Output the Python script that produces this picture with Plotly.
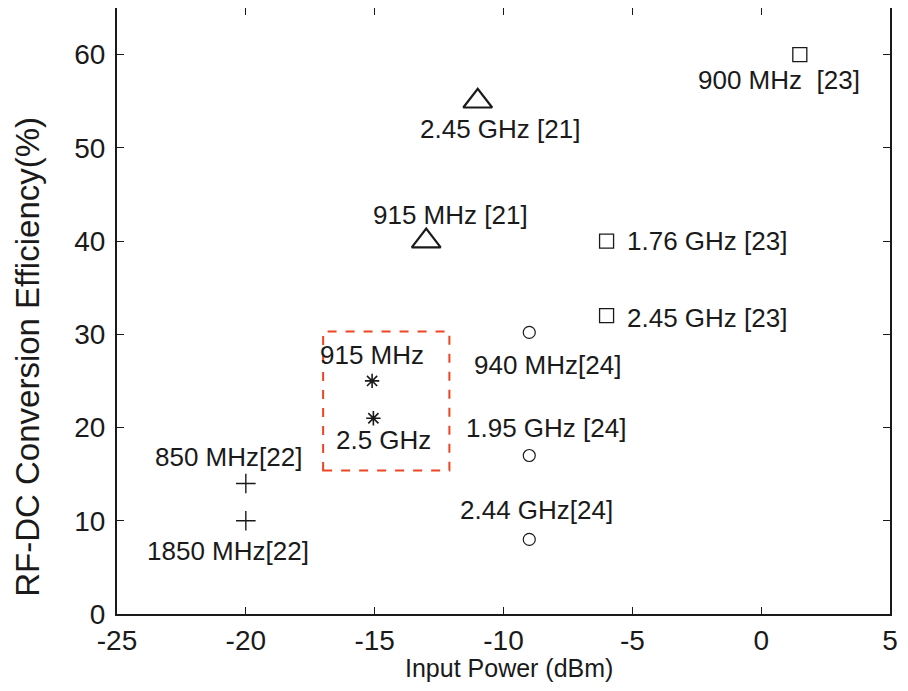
import plotly.graph_objects as go

# Data
sq_x = [1.5, -6, -6]
sq_y = [60, 40, 32]
sq_labels = ["900 MHz  [23]", "1.76 GHz [23]", "2.45 GHz [23]"]

tri_x = [-11, -13]
tri_y = [55, 40]
tri_labels = ["2.45 GHz [21]", "915 MHz [21]"]

circ_x = [-9, -9, -9]
circ_y = [30.2, 17, 8]
circ_labels = ["940 MHz[24]", "1.95 GHz [24]", "2.44 GHz[24]"]

ast_x = [-15.1, -15.05]
ast_y = [25, 21]
ast_labels = ["915 MHz", "2.5 GHz"]

plus_x = [-20, -20]
plus_y = [14, 10]
plus_labels = ["850 MHz[22]", "1850 MHz[22]"]

box_x = [-17.0, -12.1]
box_y = [15.4, 30.3]

x_ticks = [-25, -20, -15, -10, -5, 0, 5]
y_ticks = [0, 10, 20, 30, 40, 50, 60]

x_title = "Input Power (dBm)"
y_title = "RF-DC Conversion Efficiency(%)"

# Styles: label pixel offsets (xshift, yshift, xanchor)
sq_off = [(-21, -25, "center"), (18, 0, "left"), (18, -2, "left")]
tri_off = [(22, -28, "center"), (24, 26, "center")]
circ_off = [(18, -33, "center"), (17, 28, "center"), (7, 29, "center")]
ast_off = [(0, 26, "center"), (10, -22, "center")]
plus_off = [(-17, 26, "center"), (-18, -30, "center")]

FONT = "Liberation Sans, Arial, sans-serif"
INK = "#1a1a1a"
fig = go.Figure()

def add(xs, ys, symbol, size, lw):
    fig.add_trace(go.Scatter(x=xs, y=ys, mode="markers",
                             marker=dict(symbol=symbol, size=size, color=INK,
                                         line=dict(color=INK, width=lw)),
                             showlegend=False, hoverinfo="skip"))

add(sq_x, sq_y, "square-open", 14, 1.3)
add(tri_x, tri_y, "triangle-up-open", 25, 2.2)
add(circ_x, circ_y, "circle-open", 12, 1.2)
add(ast_x, ast_y, "asterisk-open", 12, 1.6)
add(plus_x, plus_y, "cross-thin-open", 14, 1.4)

def labels(xs, ys, texts, offs):
    for x, y, t, (dx, dy, xa) in zip(xs, ys, texts, offs):
        fig.add_annotation(x=x, y=y, text=t, showarrow=False, xshift=dx, yshift=dy,
                           xanchor=xa, yanchor="middle",
                           font=dict(family=FONT, size=26, color=INK))

labels(sq_x, sq_y, sq_labels, sq_off)
labels(tri_x, tri_y, tri_labels, tri_off)
labels(circ_x, circ_y, circ_labels, circ_off)
labels(ast_x, ast_y, ast_labels, ast_off)
labels(plus_x, plus_y, plus_labels, plus_off)

fig.add_shape(type="rect", x0=box_x[0], x1=box_x[1], y0=box_y[0], y1=box_y[1],
              xref="x", yref="y", line=dict(color="#ee4422", width=2, dash="dash"))

# axis titles as annotations for exact placement
fig.add_annotation(x=0.507, y=-0.089, xref="paper", yref="paper", text=x_title,
                   showarrow=False, xanchor="center", yanchor="middle",
                   font=dict(family=FONT, size=25, color=INK))
fig.add_annotation(x=-0.116, y=0.425, xref="paper", yref="paper", text=y_title,
                   showarrow=False, xanchor="center", yanchor="middle", textangle=-90,
                   font=dict(family=FONT, size=33, color=INK))

axis_common = dict(showgrid=False, zeroline=False, showline=True, linecolor=INK, linewidth=2,
                   mirror="allticks", ticks="inside", ticklen=7, tickcolor=INK, tickwidth=1,
                   tickfont=dict(family=FONT, size=28, color=INK), automargin=False)

fig.update_xaxes(range=[-25, 5], tickvals=x_ticks, ticktext=[str(v) for v in x_ticks], **axis_common)
fig.update_yaxes(range=[0, 65], tickvals=y_ticks, ticktext=[str(v) for v in y_ticks],
                 ticklabelstandoff=4, **axis_common)

fig.update_layout(width=908, height=691, margin=dict(l=109, r=26, t=0, b=85),
                  plot_bgcolor="white", paper_bgcolor="white")

fig.write_html("out.html")
